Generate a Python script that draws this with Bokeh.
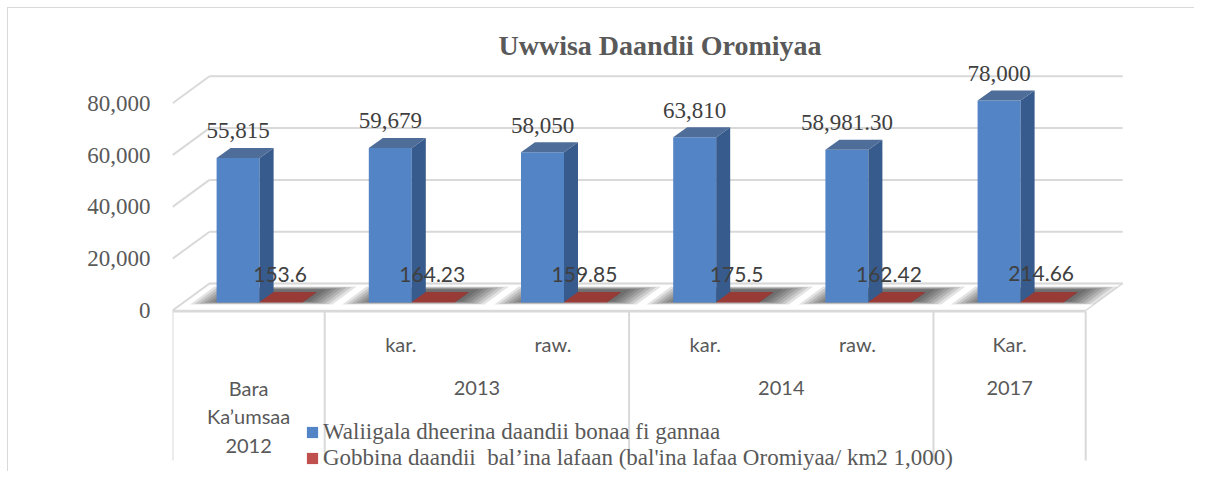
import numpy as np
from bokeh.plotting import figure
from bokeh.models import Range1d, FixedTicker, NumeralTickFormatter, Legend, LegendItem
from bokeh.core.properties import value
from bokeh.embed import file_html
from bokeh.resources import INLINE

# ---------------- data ----------------
title_text = "Uwwisa Daandii Oromiyaa"
sub_labels = ["", "kar.", "raw.", "kar.", "raw.", "Kar."]
group_labels = ["Bara\nKa\u2019umsaa\n2012", "2013", "2014", "2017"]
group_first = [0, 1, 3, 5]
group_size = [1, 2, 2, 1]
length_km = [55815, 59679, 58050, 63810, 58981.30, 78000]
density = [153.6, 164.23, 159.85, 175.5, 162.42, 214.66]
series_names = ["Waliigala dheerina daandii bonaa fi gannaa",
                "Gobbina daandii  bal\u2019ina lafaan (bal'ina lafaa Oromiyaa/ km2 1,000)"]
y_ticks = [0, 20000, 40000, 60000, 80000]

# ---------------- geometry helpers ----------------
W, H = 1194, 471
CW = 152.2            # px per category
K = 0.00259           # px per value unit
RX, RY = 172, 310     # canvas px of the front-left floor corner
SERIF = "Liberation Serif"
SANS = "Lato"
TXT_A = 10            # alphabetic-baseline text renders this much lower than its anchor


def px_x(p):
    return p / CW


def px_y(p):
    return p / K


def at_x(cx):
    return px_x(cx - RX)


def at_y(cy):
    return px_y(RY - cy)


n = len(length_km)
DEPTH = (37, 27)
BASE = (11, 8)
THICK = (14, 10)
bw = 43 / CW

p = figure(width=W, height=H, output_backend="svg", toolbar_location=None, title=None,
           x_range=Range1d(0, px_x(W - RX)),
           y_range=Range1d(-px_y(H - RY), px_y(RY)),
           x_axis_location=None, y_axis_location="left",
           min_border_left=RX, min_border_right=0, min_border_top=0, min_border_bottom=0,
           background_fill_alpha=0, border_fill_alpha=0, outline_line_color=None)
p.grid.visible = False
p.styles = {"background-color": "white",
            "box-shadow": "inset 7px 7px 0 0 white, inset 8px 8px 0 0 #d9d9d9"}

ax = p.yaxis[0]
ax.ticker = FixedTicker(ticks=y_ticks)
ax.formatter = NumeralTickFormatter(format="0,0")
ax.axis_line_color = None
ax.major_tick_line_color = None
ax.minor_tick_line_color = None
ax.major_tick_out = 0
ax.major_tick_in = 0
ax.major_label_standoff = 22
ax.major_label_text_font = SERIF
ax.major_label_text_font_size = "23px"
ax.major_label_text_color = "#595959"

GRID = "#d9d9d9"
dX, dY = px_x(DEPTH[0]), px_y(DEPTH[1])

# floor, back-wall and side-wall gridlines
p.patch([0, n, n + dX, dX], [0, 0, dY, dY], fill_color="white", line_color=GRID, line_width=1.5)
p.multi_line([[dX, n + dX] for v in y_ticks], [[v + dY, v + dY] for v in y_ticks],
             line_color=GRID, line_width=2)
p.multi_line([[0, dX] for v in y_ticks], [[v, v + dY] for v in y_ticks],
             line_color=GRID, line_width=2)

# soft floor shadows around each pair of bars
sx, sy = [], []
for i in range(n):
    a = i + 0.5 - bw
    b = i + 0.5 + bw
    for e in range(0, 25, 4):
        lo = 9 - e * 0.12
        hi = 21 + e * 0.12
        xl = a - px_x(e)
        xr = b + px_x(e * 1.1 + 6)
        sx.append([xl + px_x(lo * 37 / 27), xr + px_x(lo * 37 / 27),
                   xr + px_x(hi * 37 / 27), xl + px_x(hi * 37 / 27)])
        sy.append([px_y(lo), px_y(lo), px_y(hi), px_y(hi)])
p.patches(sx, sy, fill_color="black", fill_alpha=0.11, line_color=None)

# category table under the floor
p.segment(x0=[0], y0=[at_y(311)], x1=[n], y1=[at_y(311)], line_color=GRID, line_width=2)
bounds = [0] + [g + s for g, s in zip(group_first, group_size)]
p.segment(x0=bounds, y0=[at_y(311)] * len(bounds), x1=bounds, y1=[at_y(460)] * len(bounds),
          line_color=GRID, line_width=2)


def bar3d(lefts, vals, front, side, top):
    vals = np.asarray(vals, dtype=float)
    base = px_y(BASE[1])
    r = p.vbar(x=lefts + bw / 2, width=bw, bottom=base, top=vals + base,
               fill_color=front, line_color=None)
    tx, ty = px_x(THICK[0]), px_y(THICK[1])
    rights = lefts + bw
    p.patches([[rr, rr + tx, rr + tx, rr] for rr in rights],
              [[base, base + ty, v + base + ty, v + base] for v in vals],
              fill_color=side, line_color=None)
    p.patches([[ll, ll + bw, ll + bw + tx, ll + tx] for ll in lefts],
              [[v + base, v + base, v + base + ty, v + base + ty] for v in vals],
              fill_color=top, line_color=None)
    return r


idx = np.arange(n)
blue_left = idx + 0.5 - bw + px_x(BASE[0])
red_left = idx + 0.5 + px_x(BASE[0])
blue_r = bar3d(blue_left, length_km, "#5384c6", "#375b8c", "#4e6d98")
red_r = bar3d(red_left, density, "#c0504d", "#7a2b29", "#983a36")

# data labels
blue_txt = [f"{v:,.0f}" if float(v).is_integer() else f"{v:,.2f}" for v in length_km]
p.text(x=blue_left + bw / 2, y=np.array(length_km) + px_y(BASE[1] + 17 + TXT_A), text=blue_txt,
       text_font=value(SERIF), text_font_size="23px", text_color="#404040",
       text_align="center", text_baseline="alphabetic")
red_txt = [str(v) for v in density]
p.text(x=red_left + bw / 2 - px_x(1), y=np.array(density) + px_y(BASE[1] + 18 + TXT_A), text=red_txt,
       text_font=value(SANS), text_font_size="21px", text_color="#404040",
       text_align="center", text_baseline="alphabetic")

# two-level category labels
p.text(x=idx + 0.5, y=[at_y(343)] * n, text=sub_labels,
       text_font=value(SANS), text_font_size="20px", text_color="#595959",
       text_align="center", text_baseline="middle")
gx = [g + s / 2 for g, s in zip(group_first, group_size)]
gy = [at_y(416 if "\n" in t else 387) for t in group_labels]
p.text(x=gx, y=gy, text=group_labels,
       text_font=value(SANS), text_font_size="20px", text_color="#595959",
       text_align="center", text_baseline="middle", text_line_height=1.2)

# title
p.text(x=[at_x(659.5)], y=[at_y(55 - TXT_A)], text=[title_text],
       text_font=value(SERIF), text_font_style="bold", text_font_size="28px",
       text_color="#595959", text_align="center", text_baseline="alphabetic")

legend = Legend(items=[LegendItem(label=series_names[0], renderers=[blue_r]),
                       LegendItem(label=series_names[1], renderers=[red_r])],
                location=(305 - RX, 0), orientation="vertical",
                padding=0, margin=0, spacing=0, glyph_width=14, glyph_height=14,
                label_standoff=4, label_height=20,
                label_text_font=SERIF, label_text_font_size="23px",
                label_text_color="#595959",
                background_fill_alpha=0, border_line_color=None)
p.add_layout(legend)

open("out.html", "w").write(file_html(p, INLINE))
